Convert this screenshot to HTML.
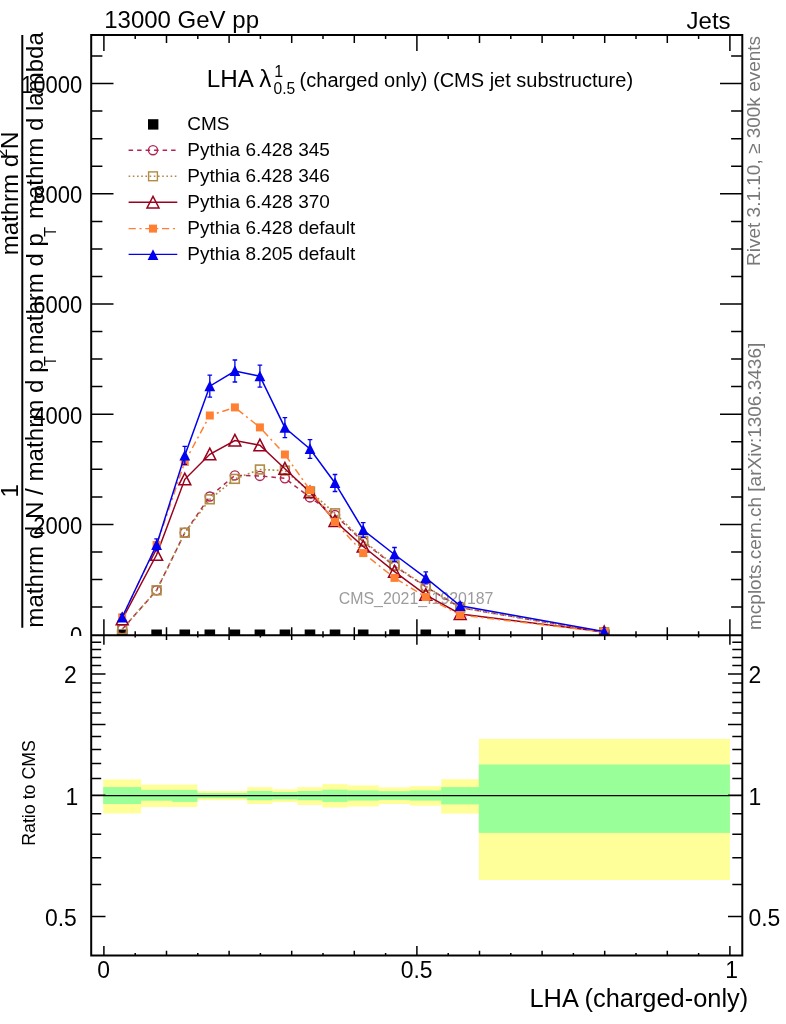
<!DOCTYPE html>
<html><head><meta charset="utf-8"><title>LHA (charged only)</title>
<style>html,body{margin:0;padding:0;background:#fff}svg{display:block}text{font-family:"Liberation Sans",sans-serif}</style>
</head><body>
<svg width="786" height="1024" viewBox="0 0 786 1024">
<rect width="786" height="1024" fill="#fff"/>
<g opacity="0.999">
<defs><clipPath id="cm"><rect x="0" y="0" width="786" height="636.1"/></clipPath></defs>
<g clip-path="url(#cm)">
<text transform="translate(82.30,643.90) scale(0.918,1.0)" font-size="24" text-anchor="end" fill="#000" >0</text>
<text transform="translate(82.30,533.70) scale(0.918,1.0)" font-size="24" text-anchor="end" fill="#000" >2000</text>
<text transform="translate(82.30,423.50) scale(0.918,1.0)" font-size="24" text-anchor="end" fill="#000" >4000</text>
<text transform="translate(82.30,313.30) scale(0.918,1.0)" font-size="24" text-anchor="end" fill="#000" >6000</text>
<text transform="translate(82.30,203.10) scale(0.918,1.0)" font-size="24" text-anchor="end" fill="#000" >8000</text>
<text transform="translate(82.30,92.90) scale(0.918,1.0)" font-size="24" text-anchor="end" fill="#000" >10000</text>
<text transform="translate(338.80,603.50) scale(1.0,1.0)" font-size="15.9" text-anchor="start" fill="#9c9c9c" >CMS_2021_I1920187</text>
<path d="M103.9,635.2 V619.2 M135.2,635.2 V631.2 M166.5,635.2 V627.2 M197.8,635.2 V631.2 M229.1,635.2 V627.2 M260.4,635.2 V631.2 M291.7,635.2 V627.2 M323.0,635.2 V631.2 M354.3,635.2 V627.2 M385.6,635.2 V631.2 M416.9,635.2 V619.2 M448.2,635.2 V631.2 M479.5,635.2 V627.2 M510.8,635.2 V631.2 M542.1,635.2 V627.2 M573.4,635.2 V631.2 M604.7,635.2 V627.2 M636.0,635.2 V631.2 M667.3,635.2 V627.2 M698.6,635.2 V631.2 M729.9,635.2 V619.2" fill="none" stroke="#000" stroke-width="1.5"/>
<rect x="116.88" y="629.50" width="10.6" height="10.6" fill="#000"/>
<rect x="151.31" y="629.50" width="10.6" height="10.6" fill="#000"/>
<rect x="179.48" y="629.50" width="10.6" height="10.6" fill="#000"/>
<rect x="204.52" y="629.50" width="10.6" height="10.6" fill="#000"/>
<rect x="229.56" y="629.50" width="10.6" height="10.6" fill="#000"/>
<rect x="254.60" y="629.50" width="10.6" height="10.6" fill="#000"/>
<rect x="279.64" y="629.50" width="10.6" height="10.6" fill="#000"/>
<rect x="304.68" y="629.50" width="10.6" height="10.6" fill="#000"/>
<rect x="329.72" y="629.50" width="10.6" height="10.6" fill="#000"/>
<rect x="357.89" y="629.50" width="10.6" height="10.6" fill="#000"/>
<rect x="389.19" y="629.50" width="10.6" height="10.6" fill="#000"/>
<rect x="420.49" y="629.50" width="10.6" height="10.6" fill="#000"/>
<rect x="454.92" y="629.50" width="10.6" height="10.6" fill="#000"/>
<rect x="598.90" y="629.50" width="10.6" height="10.6" fill="#000"/>
<polyline points="122.2,629.3 156.6,590.3 184.8,532.7 209.8,496.5 234.9,475.4 259.9,475.9 284.9,478.3 310.0,497.4 335.0,515.0 363.2,541.8 394.5,566.0 425.8,586.8 460.2,607.6 604.2,632.3" fill="none" stroke="#b22550" stroke-width="1.5" stroke-dasharray="4.5,4"/>
<circle cx="122.2" cy="629.3" r="4.55" fill="none" stroke="#b22550" stroke-width="1.4"/>
<circle cx="156.6" cy="590.3" r="4.55" fill="none" stroke="#b22550" stroke-width="1.4"/>
<circle cx="184.8" cy="532.7" r="4.55" fill="none" stroke="#b22550" stroke-width="1.4"/>
<circle cx="209.8" cy="496.5" r="4.55" fill="none" stroke="#b22550" stroke-width="1.4"/>
<circle cx="234.9" cy="475.4" r="4.55" fill="none" stroke="#b22550" stroke-width="1.4"/>
<circle cx="259.9" cy="475.9" r="4.55" fill="none" stroke="#b22550" stroke-width="1.4"/>
<circle cx="284.9" cy="478.3" r="4.55" fill="none" stroke="#b22550" stroke-width="1.4"/>
<circle cx="310.0" cy="497.4" r="4.55" fill="none" stroke="#b22550" stroke-width="1.4"/>
<circle cx="335.0" cy="515.0" r="4.55" fill="none" stroke="#b22550" stroke-width="1.4"/>
<circle cx="363.2" cy="541.8" r="4.55" fill="none" stroke="#b22550" stroke-width="1.4"/>
<circle cx="394.5" cy="566.0" r="4.55" fill="none" stroke="#b22550" stroke-width="1.4"/>
<circle cx="425.8" cy="586.8" r="4.55" fill="none" stroke="#b22550" stroke-width="1.4"/>
<circle cx="460.2" cy="607.6" r="4.55" fill="none" stroke="#b22550" stroke-width="1.4"/>
<circle cx="604.2" cy="632.3" r="4.55" fill="none" stroke="#b22550" stroke-width="1.4"/>
<polyline points="122.2,629.3 156.6,590.3 184.8,532.7 209.8,499.3 234.9,478.9 259.9,469.5 284.9,470.6 310.0,491.5 335.0,513.3 363.2,540.7 394.5,565.4 425.8,586.3 460.2,607.6 604.2,632.3" fill="none" stroke="#b08c46" stroke-width="1.7" stroke-dasharray="1.8,2.45"/>
<rect x="117.8" y="624.9" width="8.8" height="8.8" fill="none" stroke="#b08c46" stroke-width="1.6"/>
<rect x="152.2" y="585.9" width="8.8" height="8.8" fill="none" stroke="#b08c46" stroke-width="1.6"/>
<rect x="180.4" y="528.3" width="8.8" height="8.8" fill="none" stroke="#b08c46" stroke-width="1.6"/>
<rect x="205.4" y="494.9" width="8.8" height="8.8" fill="none" stroke="#b08c46" stroke-width="1.6"/>
<rect x="230.5" y="474.5" width="8.8" height="8.8" fill="none" stroke="#b08c46" stroke-width="1.6"/>
<rect x="255.5" y="465.1" width="8.8" height="8.8" fill="none" stroke="#b08c46" stroke-width="1.6"/>
<rect x="280.5" y="466.2" width="8.8" height="8.8" fill="none" stroke="#b08c46" stroke-width="1.6"/>
<rect x="305.6" y="487.1" width="8.8" height="8.8" fill="none" stroke="#b08c46" stroke-width="1.6"/>
<rect x="330.6" y="508.9" width="8.8" height="8.8" fill="none" stroke="#b08c46" stroke-width="1.6"/>
<rect x="358.8" y="536.3" width="8.8" height="8.8" fill="none" stroke="#b08c46" stroke-width="1.6"/>
<rect x="390.1" y="561.0" width="8.8" height="8.8" fill="none" stroke="#b08c46" stroke-width="1.6"/>
<rect x="421.4" y="581.9" width="8.8" height="8.8" fill="none" stroke="#b08c46" stroke-width="1.6"/>
<rect x="455.8" y="603.2" width="8.8" height="8.8" fill="none" stroke="#b08c46" stroke-width="1.6"/>
<rect x="599.8" y="627.9" width="8.8" height="8.8" fill="none" stroke="#b08c46" stroke-width="1.6"/>
<polyline points="122.2,619.3 156.6,554.8 184.8,479.3 209.8,454.3 234.9,440.6 259.9,445.3 284.9,468.7 310.0,492.3 335.0,521.0 363.2,546.5 394.5,571.7 425.8,594.8 460.2,614.0 604.2,632.0" fill="none" stroke="#99001e" stroke-width="1.5"/>
<path d="M116.2,624.8 L128.2,624.8 L122.2,613.1 Z" fill="none" stroke="#99001e" stroke-width="1.5" stroke-linejoin="miter"/>
<path d="M150.6,560.3 L162.6,560.3 L156.6,548.6 Z" fill="none" stroke="#99001e" stroke-width="1.5" stroke-linejoin="miter"/>
<path d="M178.8,484.8 L190.8,484.8 L184.8,473.1 Z" fill="none" stroke="#99001e" stroke-width="1.5" stroke-linejoin="miter"/>
<path d="M203.8,459.8 L215.8,459.8 L209.8,448.1 Z" fill="none" stroke="#99001e" stroke-width="1.5" stroke-linejoin="miter"/>
<path d="M228.9,446.1 L240.9,446.1 L234.9,434.4 Z" fill="none" stroke="#99001e" stroke-width="1.5" stroke-linejoin="miter"/>
<path d="M253.9,450.8 L265.9,450.8 L259.9,439.1 Z" fill="none" stroke="#99001e" stroke-width="1.5" stroke-linejoin="miter"/>
<path d="M278.9,474.2 L290.9,474.2 L284.9,462.5 Z" fill="none" stroke="#99001e" stroke-width="1.5" stroke-linejoin="miter"/>
<path d="M304.0,497.8 L316.0,497.8 L310.0,486.1 Z" fill="none" stroke="#99001e" stroke-width="1.5" stroke-linejoin="miter"/>
<path d="M329.0,526.5 L341.0,526.5 L335.0,514.8 Z" fill="none" stroke="#99001e" stroke-width="1.5" stroke-linejoin="miter"/>
<path d="M357.2,552.0 L369.2,552.0 L363.2,540.3 Z" fill="none" stroke="#99001e" stroke-width="1.5" stroke-linejoin="miter"/>
<path d="M388.5,577.2 L400.5,577.2 L394.5,565.5 Z" fill="none" stroke="#99001e" stroke-width="1.5" stroke-linejoin="miter"/>
<path d="M419.8,600.3 L431.8,600.3 L425.8,588.6 Z" fill="none" stroke="#99001e" stroke-width="1.5" stroke-linejoin="miter"/>
<path d="M454.2,619.5 L466.2,619.5 L460.2,607.8 Z" fill="none" stroke="#99001e" stroke-width="1.5" stroke-linejoin="miter"/>
<path d="M598.2,637.5 L610.2,637.5 L604.2,625.8 Z" fill="none" stroke="#99001e" stroke-width="1.5" stroke-linejoin="miter"/>
<polyline points="122.2,617.4 156.6,545.0 184.8,462.0 209.8,415.5 234.9,407.4 259.9,427.4 284.9,454.5 310.0,490.0 335.0,521.9 363.2,553.1 394.5,577.9 425.8,597.0 460.2,615.0 604.2,632.0" fill="none" stroke="#ff8033" stroke-width="1.5" stroke-dasharray="7.2,3.7,2.1,3.7"/>
<rect x="118.2" y="613.4" width="8" height="8" fill="#ff8033"/>
<rect x="152.6" y="541.0" width="8" height="8" fill="#ff8033"/>
<rect x="180.8" y="458.0" width="8" height="8" fill="#ff8033"/>
<rect x="205.8" y="411.5" width="8" height="8" fill="#ff8033"/>
<rect x="230.9" y="403.4" width="8" height="8" fill="#ff8033"/>
<rect x="255.9" y="423.4" width="8" height="8" fill="#ff8033"/>
<rect x="280.9" y="450.5" width="8" height="8" fill="#ff8033"/>
<rect x="306.0" y="486.0" width="8" height="8" fill="#ff8033"/>
<rect x="331.0" y="517.9" width="8" height="8" fill="#ff8033"/>
<rect x="359.2" y="549.1" width="8" height="8" fill="#ff8033"/>
<rect x="390.5" y="573.9" width="8" height="8" fill="#ff8033"/>
<rect x="421.8" y="593.0" width="8" height="8" fill="#ff8033"/>
<rect x="456.2" y="611.0" width="8" height="8" fill="#ff8033"/>
<rect x="600.2" y="628.0" width="8" height="8" fill="#ff8033"/>
<polyline points="122.2,617.3 156.6,544.8 184.8,455.4 209.8,386.2 234.9,371.0 259.9,376.2 284.9,427.7 310.0,449.0 335.0,483.0 363.2,530.0 394.5,554.5 425.8,577.9 460.2,605.8 604.2,631.6" fill="none" stroke="#0000f0" stroke-width="1.5"/>
<path d="M122.2,614.3 V620.3 M119.9,614.3 h4.6 M119.9,620.3 h4.6" stroke="#0000f0" stroke-width="1.3" fill="none"/>
<path d="M116.8,622.4 L127.6,622.4 L122.2,611.6 Z" fill="#0000f0"/>
<path d="M156.6,538.8 V550.8 M154.3,538.8 h4.6 M154.3,550.8 h4.6" stroke="#0000f0" stroke-width="1.3" fill="none"/>
<path d="M151.2,549.9 L162.0,549.9 L156.6,539.1 Z" fill="#0000f0"/>
<path d="M184.8,446.4 V464.4 M182.5,446.4 h4.6 M182.5,464.4 h4.6" stroke="#0000f0" stroke-width="1.3" fill="none"/>
<path d="M179.4,460.5 L190.2,460.5 L184.8,449.7 Z" fill="#0000f0"/>
<path d="M209.8,375.2 V397.2 M207.5,375.2 h4.6 M207.5,397.2 h4.6" stroke="#0000f0" stroke-width="1.3" fill="none"/>
<path d="M204.4,391.3 L215.2,391.3 L209.8,380.5 Z" fill="#0000f0"/>
<path d="M234.9,360.0 V382.0 M232.6,360.0 h4.6 M232.6,382.0 h4.6" stroke="#0000f0" stroke-width="1.3" fill="none"/>
<path d="M229.5,376.1 L240.3,376.1 L234.9,365.3 Z" fill="#0000f0"/>
<path d="M259.9,365.2 V387.2 M257.6,365.2 h4.6 M257.6,387.2 h4.6" stroke="#0000f0" stroke-width="1.3" fill="none"/>
<path d="M254.5,381.3 L265.3,381.3 L259.9,370.5 Z" fill="#0000f0"/>
<path d="M284.9,417.7 V437.7 M282.6,417.7 h4.6 M282.6,437.7 h4.6" stroke="#0000f0" stroke-width="1.3" fill="none"/>
<path d="M279.5,432.8 L290.3,432.8 L284.9,422.0 Z" fill="#0000f0"/>
<path d="M310.0,439.7 V458.3 M307.7,439.7 h4.6 M307.7,458.3 h4.6" stroke="#0000f0" stroke-width="1.3" fill="none"/>
<path d="M304.6,454.1 L315.4,454.1 L310.0,443.3 Z" fill="#0000f0"/>
<path d="M335.0,474.5 V491.5 M332.7,474.5 h4.6 M332.7,491.5 h4.6" stroke="#0000f0" stroke-width="1.3" fill="none"/>
<path d="M329.6,488.1 L340.4,488.1 L335.0,477.3 Z" fill="#0000f0"/>
<path d="M363.2,522.7 V537.3 M360.9,522.7 h4.6 M360.9,537.3 h4.6" stroke="#0000f0" stroke-width="1.3" fill="none"/>
<path d="M357.8,535.1 L368.6,535.1 L363.2,524.3 Z" fill="#0000f0"/>
<path d="M394.5,547.5 V561.5 M392.2,547.5 h4.6 M392.2,561.5 h4.6" stroke="#0000f0" stroke-width="1.3" fill="none"/>
<path d="M389.1,559.6 L399.9,559.6 L394.5,548.8 Z" fill="#0000f0"/>
<path d="M425.8,571.9 V583.9 M423.5,571.9 h4.6 M423.5,583.9 h4.6" stroke="#0000f0" stroke-width="1.3" fill="none"/>
<path d="M420.4,583.0 L431.2,583.0 L425.8,572.2 Z" fill="#0000f0"/>
<path d="M460.2,602.3 V609.3 M457.9,602.3 h4.6 M457.9,609.3 h4.6" stroke="#0000f0" stroke-width="1.3" fill="none"/>
<path d="M454.8,610.9 L465.6,610.9 L460.2,600.1 Z" fill="#0000f0"/>
<path d="M598.8,636.7 L609.6,636.7 L604.2,625.9 Z" fill="#0000f0"/>
</g>
<rect x="103.2" y="779.4" width="37.9" height="34.0" fill="#ffff99"/>
<rect x="140.8" y="784.6" width="31.6" height="22.4" fill="#ffff99"/>
<rect x="172.1" y="784.6" width="25.3" height="22.4" fill="#ffff99"/>
<rect x="197.1" y="791.0" width="25.3" height="9.2" fill="#ffff99"/>
<rect x="222.1" y="791.0" width="25.3" height="9.2" fill="#ffff99"/>
<rect x="247.2" y="787.1" width="25.3" height="16.9" fill="#ffff99"/>
<rect x="272.2" y="789.2" width="25.3" height="13.0" fill="#ffff99"/>
<rect x="297.3" y="787.1" width="25.3" height="17.9" fill="#ffff99"/>
<rect x="322.3" y="784.1" width="25.3" height="23.4" fill="#ffff99"/>
<rect x="347.3" y="785.4" width="31.6" height="21.1" fill="#ffff99"/>
<rect x="378.6" y="787.4" width="31.6" height="16.6" fill="#ffff99"/>
<rect x="409.9" y="786.1" width="31.6" height="19.6" fill="#ffff99"/>
<rect x="441.2" y="779.2" width="37.9" height="34.4" fill="#ffff99"/>
<rect x="478.8" y="738.9" width="251.1" height="141.1" fill="#ffff99"/>
<rect x="103.2" y="787.1" width="37.9" height="16.9" fill="#99ff99"/>
<rect x="140.8" y="789.9" width="31.6" height="10.8" fill="#99ff99"/>
<rect x="172.1" y="789.9" width="25.3" height="12.0" fill="#99ff99"/>
<rect x="197.1" y="793.0" width="25.3" height="5.2" fill="#99ff99"/>
<rect x="222.1" y="793.0" width="25.3" height="5.2" fill="#99ff99"/>
<rect x="247.2" y="791.0" width="25.3" height="9.2" fill="#99ff99"/>
<rect x="272.2" y="792.0" width="25.3" height="7.4" fill="#99ff99"/>
<rect x="297.3" y="791.0" width="25.3" height="9.2" fill="#99ff99"/>
<rect x="322.3" y="789.7" width="25.3" height="12.2" fill="#99ff99"/>
<rect x="347.3" y="790.4" width="31.6" height="10.2" fill="#99ff99"/>
<rect x="378.6" y="791.2" width="31.6" height="8.7" fill="#99ff99"/>
<rect x="409.9" y="790.4" width="31.6" height="10.2" fill="#99ff99"/>
<rect x="441.2" y="787.1" width="37.9" height="17.3" fill="#99ff99"/>
<rect x="478.8" y="764.5" width="251.1" height="68.4" fill="#99ff99"/>
<line x1="91.2" y1="795.5999999999999" x2="742.3" y2="795.5999999999999" stroke="#000" stroke-width="1.4"/>
<path d="M91.2,34.9 H742.3 V955.5 H91.2 Z M91.2,635.2 H742.3" fill="none" stroke="#000" stroke-width="2"/>
<path d="M103.9,34.9 L103.9,50.9 M103.9,635.2 L103.9,644.8 M103.9,955.5 L103.9,945.9 M135.2,34.9 L135.2,38.9 M135.2,635.2 L135.2,637.6 M135.2,955.5 L135.2,953.1 M166.5,34.9 L166.5,42.9 M166.5,635.2 L166.5,640.0 M166.5,955.5 L166.5,950.7 M197.8,34.9 L197.8,38.9 M197.8,635.2 L197.8,637.6 M197.8,955.5 L197.8,953.1 M229.1,34.9 L229.1,42.9 M229.1,635.2 L229.1,640.0 M229.1,955.5 L229.1,950.7 M260.4,34.9 L260.4,38.9 M260.4,635.2 L260.4,637.6 M260.4,955.5 L260.4,953.1 M291.7,34.9 L291.7,42.9 M291.7,635.2 L291.7,640.0 M291.7,955.5 L291.7,950.7 M323.0,34.9 L323.0,38.9 M323.0,635.2 L323.0,637.6 M323.0,955.5 L323.0,953.1 M354.3,34.9 L354.3,42.9 M354.3,635.2 L354.3,640.0 M354.3,955.5 L354.3,950.7 M385.6,34.9 L385.6,38.9 M385.6,635.2 L385.6,637.6 M385.6,955.5 L385.6,953.1 M416.9,34.9 L416.9,50.9 M416.9,635.2 L416.9,644.8 M416.9,955.5 L416.9,945.9 M448.2,34.9 L448.2,38.9 M448.2,635.2 L448.2,637.6 M448.2,955.5 L448.2,953.1 M479.5,34.9 L479.5,42.9 M479.5,635.2 L479.5,640.0 M479.5,955.5 L479.5,950.7 M510.8,34.9 L510.8,38.9 M510.8,635.2 L510.8,637.6 M510.8,955.5 L510.8,953.1 M542.1,34.9 L542.1,42.9 M542.1,635.2 L542.1,640.0 M542.1,955.5 L542.1,950.7 M573.4,34.9 L573.4,38.9 M573.4,635.2 L573.4,637.6 M573.4,955.5 L573.4,953.1 M604.7,34.9 L604.7,42.9 M604.7,635.2 L604.7,640.0 M604.7,955.5 L604.7,950.7 M636.0,34.9 L636.0,38.9 M636.0,635.2 L636.0,637.6 M636.0,955.5 L636.0,953.1 M667.3,34.9 L667.3,42.9 M667.3,635.2 L667.3,640.0 M667.3,955.5 L667.3,950.7 M698.6,34.9 L698.6,38.9 M698.6,635.2 L698.6,637.6 M698.6,955.5 L698.6,953.1 M729.9,34.9 L729.9,50.9 M729.9,635.2 L729.9,644.8 M729.9,955.5 L729.9,945.9 M91.2,607.1 L102.4,607.1 M742.3,607.1 L731.1,607.1 M91.2,579.5 L102.4,579.5 M742.3,579.5 L731.1,579.5 M91.2,552.0 L102.4,552.0 M742.3,552.0 L731.1,552.0 M91.2,524.4 L113.5,524.4 M742.3,524.4 L720.0,524.4 M91.2,496.9 L102.4,496.9 M742.3,496.9 L731.1,496.9 M91.2,469.3 L102.4,469.3 M742.3,469.3 L731.1,469.3 M91.2,441.8 L102.4,441.8 M742.3,441.8 L731.1,441.8 M91.2,414.2 L113.5,414.2 M742.3,414.2 L720.0,414.2 M91.2,386.6 L102.4,386.6 M742.3,386.6 L731.1,386.6 M91.2,359.1 L102.4,359.1 M742.3,359.1 L731.1,359.1 M91.2,331.6 L102.4,331.6 M742.3,331.6 L731.1,331.6 M91.2,304.0 L113.5,304.0 M742.3,304.0 L720.0,304.0 M91.2,276.4 L102.4,276.4 M742.3,276.4 L731.1,276.4 M91.2,248.9 L102.4,248.9 M742.3,248.9 L731.1,248.9 M91.2,221.4 L102.4,221.4 M742.3,221.4 L731.1,221.4 M91.2,193.8 L113.5,193.8 M742.3,193.8 L720.0,193.8 M91.2,166.2 L102.4,166.2 M742.3,166.2 L731.1,166.2 M91.2,138.7 L102.4,138.7 M742.3,138.7 L731.1,138.7 M91.2,111.1 L102.4,111.1 M742.3,111.1 L731.1,111.1 M91.2,83.6 L113.5,83.6 M742.3,83.6 L720.0,83.6 M91.2,56.0 L102.4,56.0 M742.3,56.0 L731.1,56.0 M91.2,916.5 L105.5,916.5 M742.3,916.5 L728.0,916.5 M91.2,884.6 L101.2,884.6 M742.3,884.6 L732.3,884.6 M91.2,857.7 L101.2,857.7 M742.3,857.7 L732.3,857.7 M91.2,834.3 L101.2,834.3 M742.3,834.3 L732.3,834.3 M91.2,813.7 L101.2,813.7 M742.3,813.7 L732.3,813.7 M91.2,795.3 L105.5,795.3 M742.3,795.3 L728.0,795.3 M91.2,778.6 L101.2,778.6 M742.3,778.6 L732.3,778.6 M91.2,763.4 L101.2,763.4 M742.3,763.4 L732.3,763.4 M91.2,749.4 L101.2,749.4 M742.3,749.4 L732.3,749.4 M91.2,736.5 L101.2,736.5 M742.3,736.5 L732.3,736.5 M91.2,724.4 L105.5,724.4 M742.3,724.4 L728.0,724.4 M91.2,713.1 L101.2,713.1 M742.3,713.1 L732.3,713.1 M91.2,702.5 L101.2,702.5 M742.3,702.5 L732.3,702.5 M91.2,692.5 L101.2,692.5 M742.3,692.5 L732.3,692.5 M91.2,683.0 L101.2,683.0 M742.3,683.0 L732.3,683.0 M91.2,674.1 L105.5,674.1 M742.3,674.1 L728.0,674.1 M91.2,665.5 L101.2,665.5 M742.3,665.5 L732.3,665.5 M91.2,657.4 L101.2,657.4 M742.3,657.4 L732.3,657.4 M91.2,649.6 L101.2,649.6 M742.3,649.6 L732.3,649.6 M91.2,642.2 L101.2,642.2 M742.3,642.2 L732.3,642.2" fill="none" stroke="#000" stroke-width="1.5"/>
<text transform="translate(104.20,28.20) scale(1.0,1.0)" font-size="24.0" text-anchor="start" fill="#000" >13000 GeV pp</text>
<text transform="translate(730.60,28.60) scale(1.0,1.0)" font-size="24.0" text-anchor="end" fill="#000" >Jets</text>
<text transform="translate(206.80,86.60) scale(1.0,1.0)" font-size="24.2" text-anchor="start" fill="#000" >LHA &#955;</text>
<text transform="translate(274.20,77.40) scale(1.0,1.0)" font-size="16" text-anchor="start" fill="#000" >1</text>
<text transform="translate(273.60,93.60) scale(1.0,1.0)" font-size="15.6" text-anchor="start" fill="#000" >0.5</text>
<text transform="translate(299.60,86.60) scale(1.0,1.0)" font-size="20.0" text-anchor="start" fill="#000" >(charged only) (CMS jet substructure)</text>
<rect x="148" y="119.2" width="10.4" height="10.4" fill="#000"/>
<line x1="128.6" y1="150.2" x2="177.3" y2="150.2" stroke="#b22550" stroke-width="1.4" stroke-dasharray="4.5,4"/>
<circle cx="153.0" cy="150.2" r="4.55" fill="none" stroke="#b22550" stroke-width="1.4"/>
<line x1="128.6" y1="176.3" x2="177.3" y2="176.3" stroke="#b08c46" stroke-width="1.4" stroke-dasharray="1.6,2.6"/>
<rect x="148.6" y="171.9" width="8.8" height="8.8" fill="none" stroke="#b08c46" stroke-width="1.4"/>
<line x1="128.6" y1="202.2" x2="177.3" y2="202.2" stroke="#99001e" stroke-width="1.4"/>
<path d="M147.0,208.0 L159.0,208.0 L153.0,196.3 Z" fill="none" stroke="#99001e" stroke-width="1.5" stroke-linejoin="miter"/>
<line x1="128.6" y1="228.6" x2="177.3" y2="228.6" stroke="#ff8033" stroke-width="1.4" stroke-dasharray="7.2,3.7,2.1,3.7"/>
<rect x="149.0" y="224.6" width="8" height="8" fill="#ff8033"/>
<line x1="128.6" y1="254.4" x2="177.3" y2="254.4" stroke="#0000f0" stroke-width="1.4"/>
<path d="M147.6,260.0 L158.4,260.0 L153.0,249.2 Z" fill="#0000f0"/>
<text transform="translate(187.30,129.70) scale(1.0,1.0)" font-size="19.0" text-anchor="start" fill="#000" >CMS</text>
<text transform="translate(187.30,156.00) scale(1.0,1.0)" font-size="19.0" text-anchor="start" fill="#000" >Pythia 6.428 345</text>
<text transform="translate(187.30,182.10) scale(1.0,1.0)" font-size="19.0" text-anchor="start" fill="#000" >Pythia 6.428 346</text>
<text transform="translate(187.30,208.40) scale(1.0,1.0)" font-size="19.0" text-anchor="start" fill="#000" >Pythia 6.428 370</text>
<text transform="translate(187.30,234.00) scale(1.0,1.0)" font-size="19.0" text-anchor="start" fill="#000" >Pythia 6.428 default</text>
<text transform="translate(187.30,260.00) scale(1.0,1.0)" font-size="19.0" text-anchor="start" fill="#000" >Pythia 8.205 default</text>
<text transform="translate(760.20,266.00) rotate(-90) scale(1.0,1.0)" font-size="19" text-anchor="start" fill="#787878" >Rivet 3.1.10, &#8805; 300k events</text>
<text transform="translate(761.00,630.00) rotate(-90) scale(1.0,1.0)" font-size="19" text-anchor="start" fill="#787878" >mcplots.cern.ch [arXiv:1306.3436]</text>
<text transform="translate(76.80,683.48) scale(0.955,1.0)" font-size="24" text-anchor="end" fill="#000" >2</text>
<text transform="translate(748.40,683.48) scale(0.955,1.0)" font-size="24" text-anchor="start" fill="#000" >2</text>
<text transform="translate(78.30,804.70) scale(0.955,1.0)" font-size="24" text-anchor="end" fill="#000" >1</text>
<text transform="translate(748.40,804.70) scale(0.955,1.0)" font-size="24" text-anchor="start" fill="#000" >1</text>
<text transform="translate(76.80,925.92) scale(0.955,1.0)" font-size="24" text-anchor="end" fill="#000" >0.5</text>
<text transform="translate(748.40,925.92) scale(0.955,1.0)" font-size="24" text-anchor="start" fill="#000" >0.5</text>
<text transform="translate(35.40,845.80) rotate(-90) scale(1.0,1.0)" font-size="17.8" text-anchor="start" fill="#000" >Ratio to CMS</text>
<text transform="translate(103.60,978.00) scale(0.955,1.0)" font-size="24" text-anchor="middle" fill="#000" >0</text>
<text transform="translate(416.60,978.00) scale(0.955,1.0)" font-size="24" text-anchor="middle" fill="#000" >0.5</text>
<text transform="translate(731.60,978.00) scale(0.955,1.0)" font-size="24" text-anchor="middle" fill="#000" >1</text>
<text transform="translate(748.20,1006.50) scale(1.0,1.0)" font-size="25.4" text-anchor="end" fill="#000" >LHA (charged-only)</text>
<line x1="22.3" y1="35" x2="22.3" y2="627.8" stroke="#000" stroke-width="2"/>
<text transform="translate(18.00,497.40) rotate(-90) scale(1.0,1.0)" font-size="24" text-anchor="start" fill="#000" >1</text>
<text transform="translate(43.00,627.70) rotate(-90) scale(1.0,1.0)" font-size="24.15" text-anchor="start" fill="#000" >mathrm d N / mathrm d p</text>
<text transform="translate(55.70,365.90) rotate(-90) scale(1.0,1.0)" font-size="16" text-anchor="start" fill="#000" >T</text>
<text transform="translate(18.00,255.30) rotate(-90) scale(1.0,1.0)" font-size="24" text-anchor="start" fill="#000" >mathrm d</text>
<text transform="translate(7.00,157.40) rotate(-90) scale(1.0,1.0)" font-size="16" text-anchor="start" fill="#000" >2</text>
<text transform="translate(18.00,149.20) rotate(-90) scale(1.0,1.0)" font-size="24.6" text-anchor="start" fill="#000" >N</text>
<text transform="translate(43.00,354.50) rotate(-90) scale(1.0,1.0)" font-size="24" text-anchor="start" fill="#000" >mathrm d p</text>
<text transform="translate(55.70,236.70) rotate(-90) scale(1.0,1.0)" font-size="16" text-anchor="start" fill="#000" >T</text>
<text transform="translate(43.00,219.00) rotate(-90) scale(1.0,1.0)" font-size="24" text-anchor="start" fill="#000" >mathrm d lambda</text>
</g>
</svg></body></html>
